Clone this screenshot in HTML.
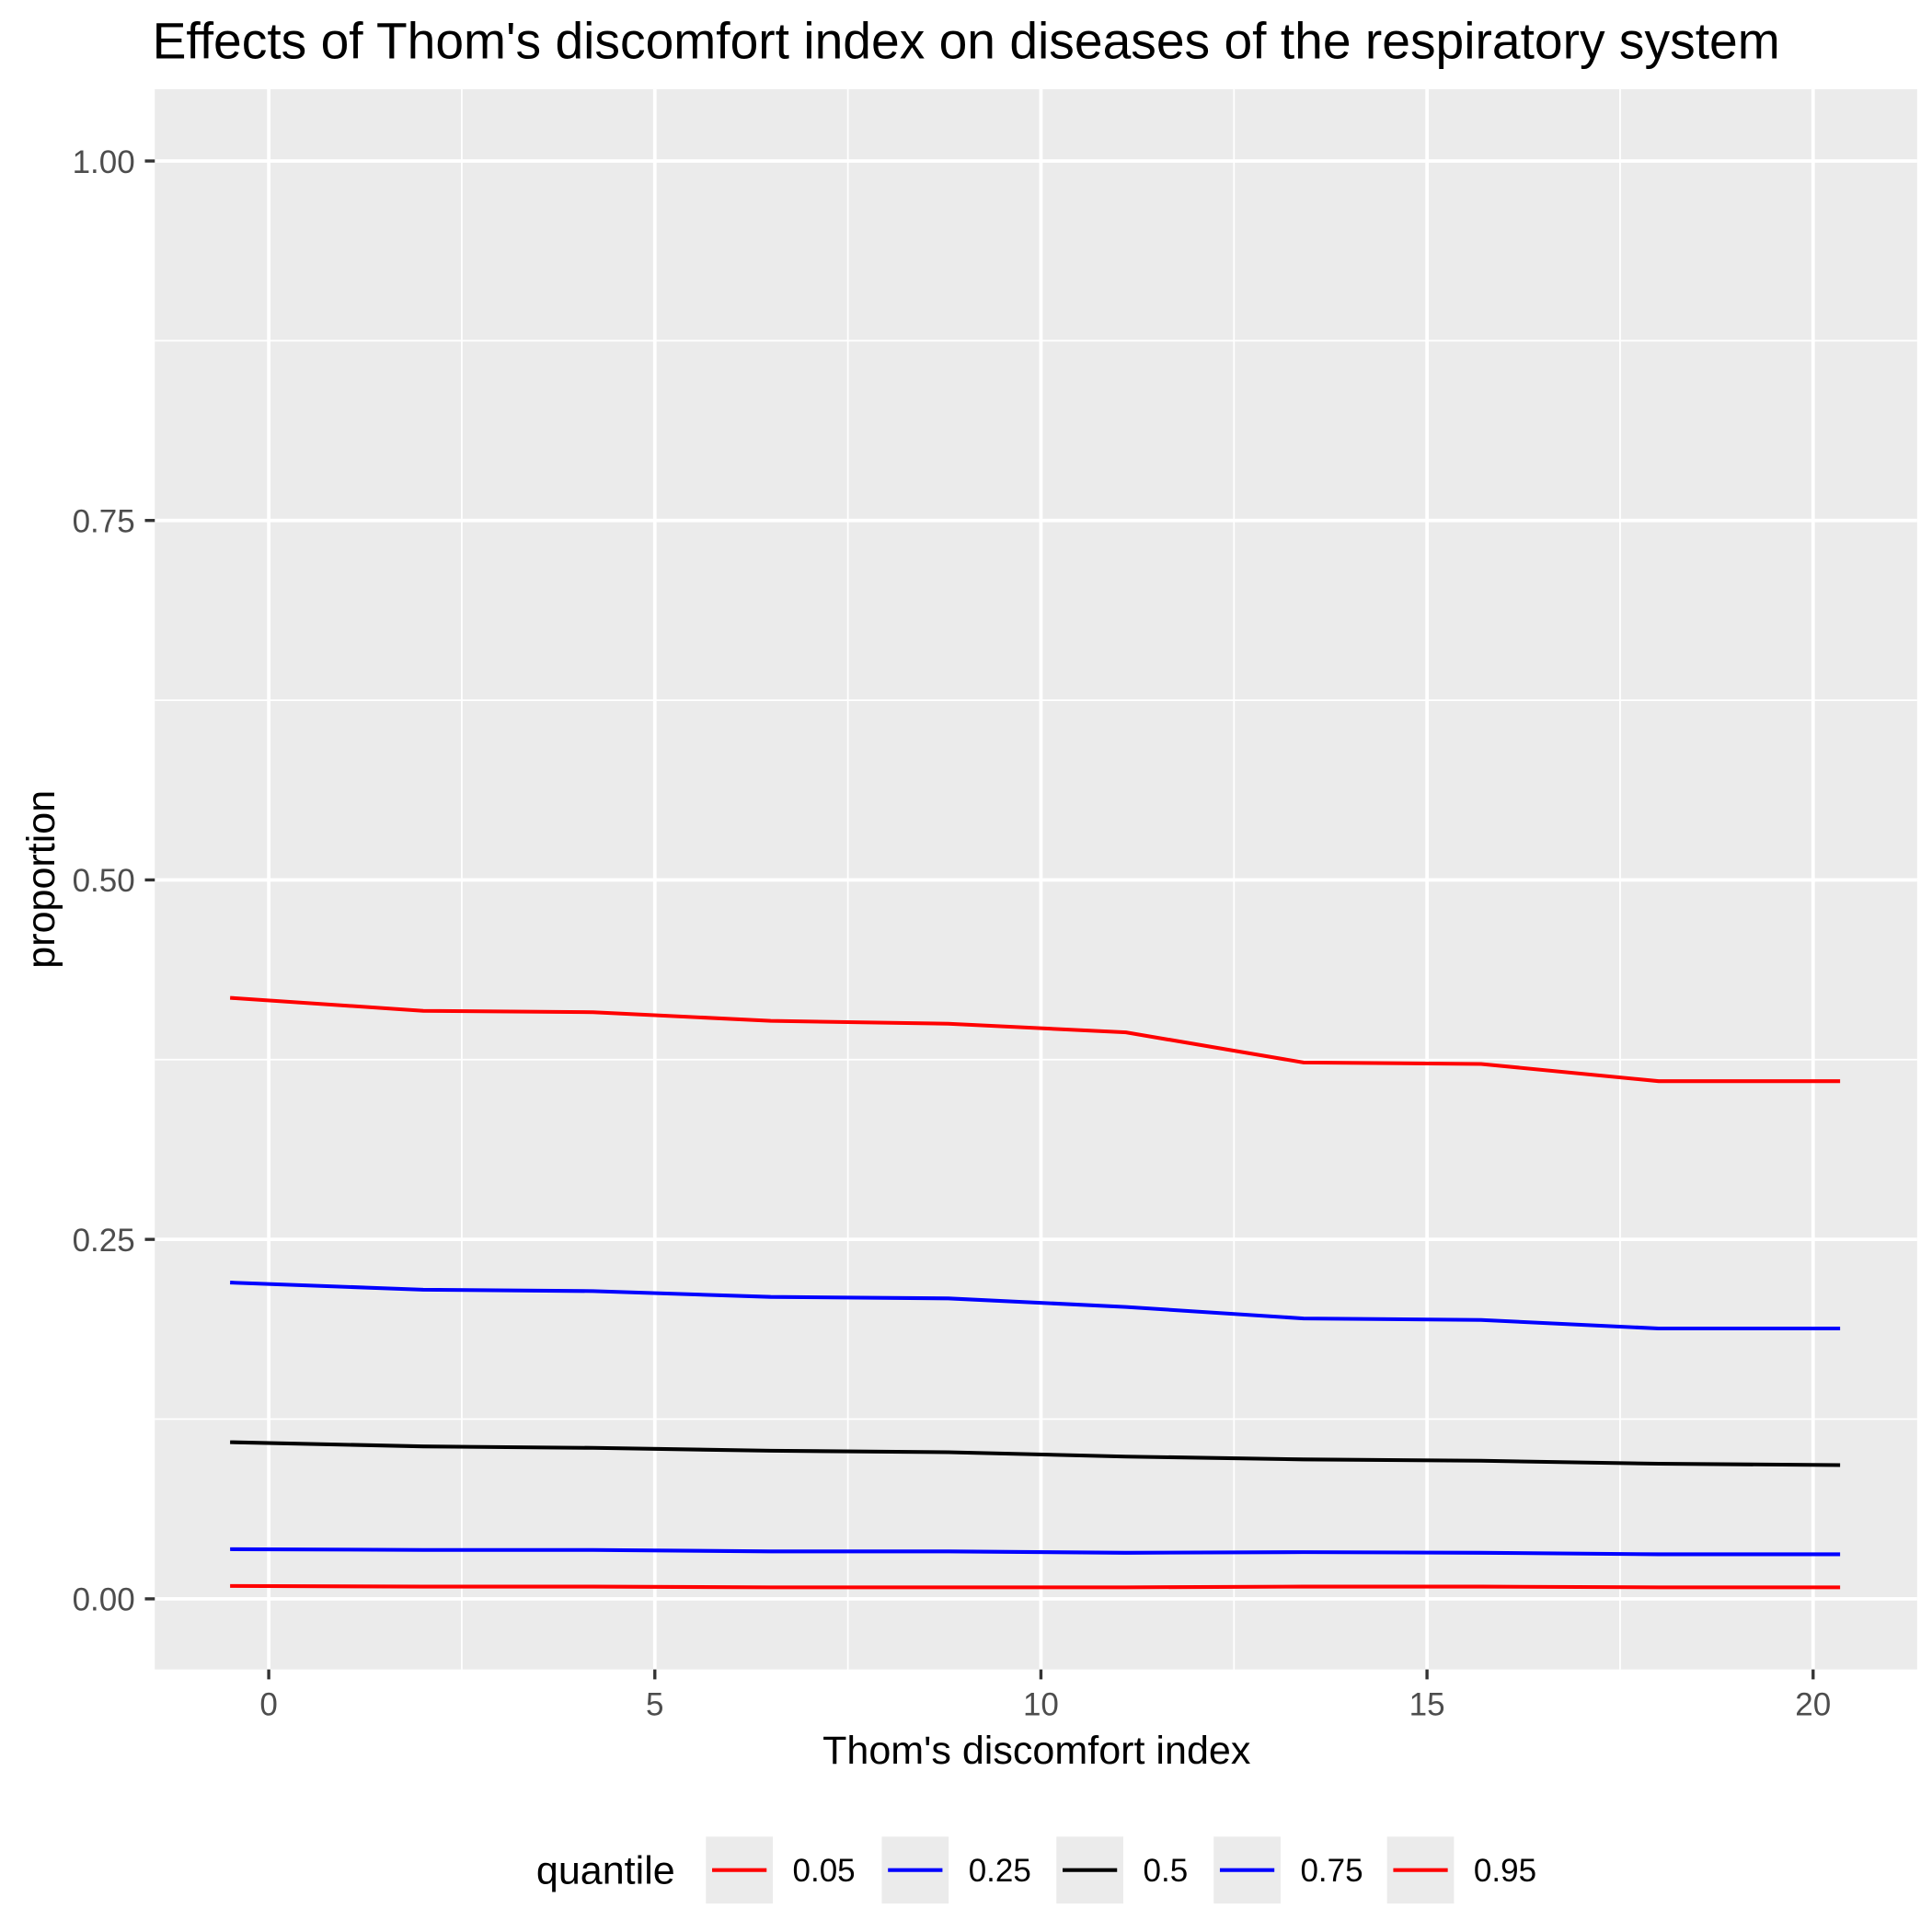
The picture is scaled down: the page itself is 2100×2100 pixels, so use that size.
<!DOCTYPE html>
<html><head><meta charset="utf-8"><style>
html,body{margin:0;padding:0;background:#fff;}
svg{display:block;font-family:"Liberation Sans",Arial,sans-serif;}
</style></head><body>
<svg id="chart" width="2100" height="2100" viewBox="0 0 1560 1560" xmlns="http://www.w3.org/2000/svg">
<rect x="0" y="0" width="1560" height="1560" fill="#fff"/>
<text x="123" y="47" font-size="41" fill="#000">Effects of Thom's discomfort index on diseases of the respiratory system</text>
<rect x="125" y="72" width="1423" height="1276" fill="#ebebeb"/>
<g id="grid"></g>
<g id="axes"></g>
<g id="series"></g>
<text x="837" y="1424" font-size="32" text-anchor="middle" fill="#000">Thom's discomfort index</text>
<text x="0" y="0" font-size="32" text-anchor="middle" fill="#000" transform="translate(44,710) rotate(-90)">proportion</text>
<g id="legend"></g>
</svg>
<script>
const xVals = [-0.5, 2.0, 4.2, 6.5, 8.8, 11.1, 13.4, 15.7, 18.0, 20.35];
const q05 = [0.009, 0.0085, 0.0085, 0.008, 0.008, 0.008, 0.0085, 0.0085, 0.008, 0.008];
const q25 = [0.0345, 0.034, 0.034, 0.033, 0.033, 0.032, 0.0325, 0.032, 0.031, 0.031];
const q50 = [0.109, 0.106, 0.105, 0.103, 0.102, 0.099, 0.097, 0.096, 0.094, 0.093];
const q75 = [0.220, 0.215, 0.214, 0.210, 0.209, 0.203, 0.195, 0.194, 0.188, 0.188];
const q95 = [0.418, 0.409, 0.408, 0.402, 0.400, 0.394, 0.373, 0.372, 0.360, 0.360];
const seriesNames = ["0.05", "0.25", "0.5", "0.75", "0.95"];
const seriesColors = ["#ff0000", "#0000ff", "#000000", "#0000ff", "#ff0000"];
const xTicks = [0, 5, 10, 15, 20];
const xMinor = [2.5, 7.5, 12.5, 17.5];
const yTicks = [0, 0.25, 0.5, 0.75, 1.0];
const yTickLabels = ["0.00", "0.25", "0.50", "0.75", "1.00"];
const yMinor = [0.125, 0.375, 0.625, 0.875];

const NS = "http://www.w3.org/2000/svg";
const X = v => 217 + v * 62.35;
const Y = v => 1291 - v * 1161;
const PX0 = 125, PX1 = 1548, PY0 = 72, PY1 = 1348;

function mk(tag, attrs, parent) {
  const e = document.createElementNS(NS, tag);
  for (const k in attrs) e.setAttribute(k, attrs[k]);
  parent.appendChild(e);
  return e;
}
const grid = document.getElementById('grid');
const axes = document.getElementById('axes');
const series = document.getElementById('series');
const legend = document.getElementById('legend');

xMinor.forEach(v => {
  const l = mk('line', {x1: X(v), x2: X(v), y1: PY0, y2: PY1, stroke: '#fff', 'stroke-width': 1.3}, grid);
  
  
});
yMinor.forEach(v => {
  const l = mk('line', {x1: PX0, x2: PX1, y1: Y(v), y2: Y(v), stroke: '#fff', 'stroke-width': 1.3}, grid);
  
  
});
xTicks.forEach(v => {
  const l = mk('line', {x1: X(v), x2: X(v), y1: PY0, y2: PY1, stroke: '#fff', 'stroke-width': 2.8}, grid);
  
  
  const t = mk('line', {x1: X(v), x2: X(v), y1: PY1, y2: PY1 + 8, stroke: '#333', 'stroke-width': 2.5}, axes);
  
  
  const tx = mk('text', {x: X(v), y: PY1 + 37, 'font-size': 26, fill: '#4d4d4d', 'text-anchor': 'middle'}, axes);
  tx.textContent = String(v);
  
  
});
yTicks.forEach((v, i) => {
  const l = mk('line', {x1: PX0, x2: PX1, y1: Y(v), y2: Y(v), stroke: '#fff', 'stroke-width': 2.8}, grid);
  
  
  const t = mk('line', {x1: PX0 - 8, x2: PX0, y1: Y(v), y2: Y(v), stroke: '#333', 'stroke-width': 2.5}, axes);
  
  
  const tx = mk('text', {x: PX0 - 16, y: Y(v) + 9.5, 'font-size': 26, fill: '#4d4d4d', 'text-anchor': 'end'}, axes);
  tx.textContent = yTickLabels[i];
  
  
});

const allSeries = [q05, q25, q50, q75, q95];
allSeries.forEach((arr, si) => {
  const pts = arr.map((v, i) => X(xVals[i]).toFixed(1) + ',' + Y(v).toFixed(1)).join(' ');
  const p = mk('polyline', {points: pts, fill: 'none', stroke: seriesColors[si], 'stroke-width': 3}, series);
  
  
});

const lt = mk('text', {x: 433, y: 1521, 'font-size': 32, fill: '#000'}, legend);
lt.textContent = 'quantile';


const keyX = [570, 712, 853, 980, 1120];
seriesNames.forEach((n, i) => {
  const g = mk('g', {}, legend);
  
  
  mk('rect', {x: keyX[i], y: 1483, width: 54, height: 54, fill: '#ebebeb'}, g);
  mk('line', {x1: keyX[i] + 5, x2: keyX[i] + 49, y1: 1510, y2: 1510, stroke: seriesColors[i], 'stroke-width': 3}, g);
  const t = mk('text', {x: keyX[i] + 70, y: 1519, 'font-size': 26, fill: '#000'}, g);
  t.textContent = n;
});
</script>
</body></html>
